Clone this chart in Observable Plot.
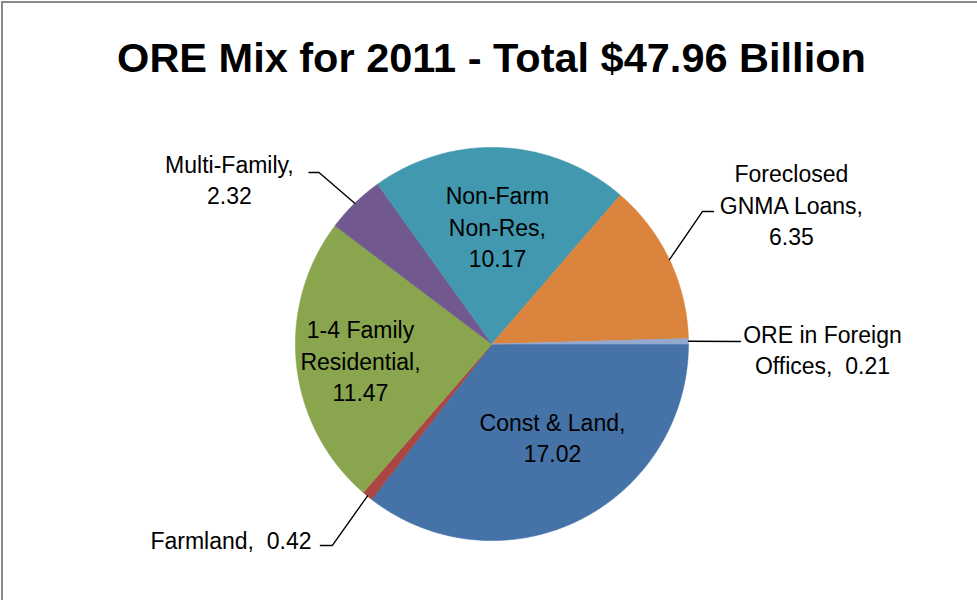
<!DOCTYPE html>
<html>
<head>
<meta charset="utf-8">
<script src="https://cdn.jsdelivr.net/npm/d3@7"></script>
<script src="https://cdn.jsdelivr.net/npm/@observablehq/plot@0.6"></script>
<style>
  html, body { margin: 0; padding: 0; background: #fff; }
  #wrap { position: relative; width: 977px; height: 600px; overflow: hidden; }
  #frame { position: absolute; left: 1px; top: 1px; width: 990px; height: 610px;
           border-top: 2px solid #898989; border-left: 2px solid #898989; box-sizing: border-box; pointer-events: none; }
  #title { height: 100px; box-sizing: border-box; padding-top: 37px; text-align: center;
           font-family: "Liberation Sans", Arial, sans-serif; font-weight: bold; font-size: 41.5px;
           line-height: 1; color: #000; padding-left: 6px; }
  #chart svg { display: block; }
</style>
</head>
<body>
<div id="wrap">
  <div id="title"></div>
  <div id="chart"></div>
  <div id="frame"></div>
</div>
<script>
// ---- data ----
const titleText = "ORE Mix for 2011 - Total $47.96 Billion";
const categories = ["Const & Land", "Farmland", "1-4 Family Residential", "Multi-Family",
                    "Non-Farm Non-Res", "Foreclosed GNMA Loans", "ORE in Foreign Offices"];
const values = [17.02, 0.42, 11.47, 2.32, 10.17, 6.35, 0.21];
const labelTexts = ["Const & Land,\n17.02", "Farmland,  0.42", "1-4 Family\nResidential,\n11.47",
                    "Multi-Family,\n2.32", "Non-Farm\nNon-Res,\n10.17", "Foreclosed\nGNMA Loans,\n6.35",
                    "ORE in Foreign\nOffices,  0.21"];
const colors = ["#4572A7", "#AA4643", "#89A54E", "#71588F", "#4198AF", "#DB843D", "#93A9CF"];

// ---- layout (in pie-radius units, centre = 0,0) ----
const labelPos = {
  "Const & Land": [0.308, -0.471],
  "Farmland": [-1.328, -0.990],
  "1-4 Family Residential": [-0.669, -0.079],
  "Multi-Family": [-1.336, 0.842],
  "Non-Farm Non-Res": [0.028, 0.603],
  "Foreclosed GNMA Loans": [1.524, 0.715],
  "ORE in Foreign Offices": [1.682, -0.023]
};
// leader line points from the label side toward the slice (slice edge point is appended)
const leaders = {
  "Farmland": [[-0.873, -1.025], [-0.812, -1.025]],
  "Multi-Family": [[-0.931, 0.873], [-0.880, 0.873]],
  "Foreclosed GNMA Loans": [[1.127, 0.674], [1.071, 0.674]],
  "ORE in Foreign Offices": [[1.265, 0.013]]
};

document.getElementById("title").textContent = titleText;

const arcs = d3.pie().sort(null).startAngle(Math.PI / 2).endAngle(Math.PI / 2 + 2 * Math.PI)(values);

const slicePts = [];
arcs.forEach((a, i) => {
  const name = categories[i];
  slicePts.push({name, x: 0, y: 0});
  const n = Math.max(2, Math.ceil((a.endAngle - a.startAngle) / (Math.PI / 360)));
  for (let k = 0; k <= n; k++) {
    const t = a.startAngle + (a.endAngle - a.startAngle) * k / n;
    slicePts.push({name, x: Math.sin(t), y: Math.cos(t)});
  }
  slicePts.push({name, x: 0, y: 0});
});

const labelData = categories.map((name, i) => ({name, x: labelPos[name][0], y: labelPos[name][1], text: labelTexts[i]}));

const leaderPts = [];
arcs.forEach((a, i) => {
  const name = categories[i];
  if (!leaders[name]) return;
  leaders[name].forEach(([x, y]) => leaderPts.push({name, x, y}));
  const m = (a.startAngle + a.endAngle) / 2;
  leaderPts.push({name, x: Math.sin(m), y: Math.cos(m)});
});

const chart = Plot.plot({
  width: 977,
  height: 500,
  margin: 0,
  style: {fontFamily: "'Liberation Sans', Arial, sans-serif", background: "transparent", overflow: "visible"},
  x: {domain: [-2.501, 2.471], axis: null},
  y: {domain: [-1.305, 1.239], axis: null},
  color: {domain: categories, range: colors},
  marks: [
    Plot.line(slicePts, {x: "x", y: "y", z: "name", fill: "name", stroke: "name", strokeWidth: 0.6, curve: "linear"}),
    Plot.line(leaderPts, {x: "x", y: "y", z: "name", stroke: "#000", strokeWidth: 1.4, curve: "linear"}),
    Plot.text(labelData, {x: "x", y: "y", text: "text", fontSize: 23, lineHeight: 1.37, fill: "#000"})
  ]
});
document.getElementById("chart").appendChild(chart);
</script>
</body>
</html>
